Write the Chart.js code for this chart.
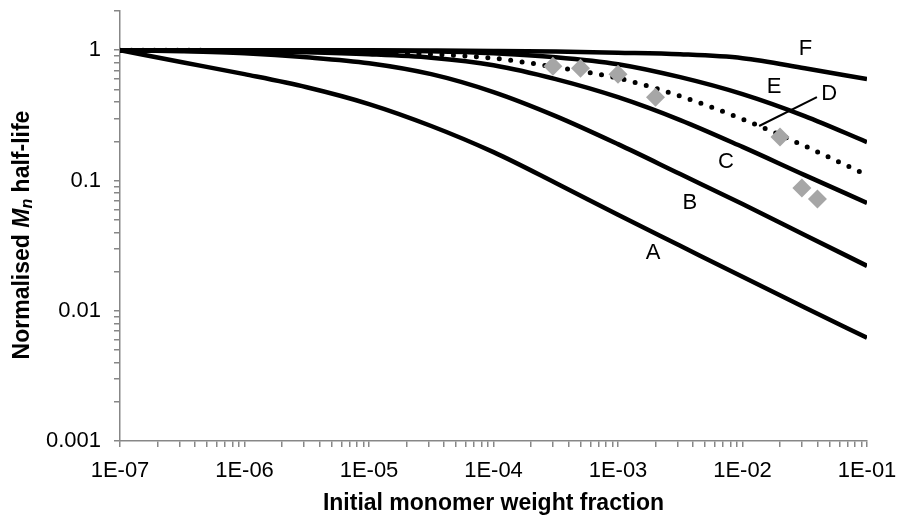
<!DOCTYPE html>
<html>
<head>
<meta charset="utf-8">
<script src="https://cdn.jsdelivr.net/npm/chart.js@4.4.1/dist/chart.umd.min.js"></script>
<style>
  html, body { margin: 0; padding: 0; background: #fff; }
  #chart { display: block; }
</style>
</head>
<body>
<canvas id="chart" width="897" height="519"></canvas>
<script>
// x positions (half decades) shared by the model curves
const monomerFraction = [1e-7, 3.16e-7, 1e-6, 3.16e-6, 1e-5, 3.16e-5, 1e-4, 3.16e-4, 1e-3, 3.16e-3, 1e-2, 3.16e-2, 1e-1];

// normalised Mn half-life
const curveA = [1, 0.809, 0.655, 0.520, 0.386, 0.262, 0.165, 0.0957, 0.0545, 0.0315, 0.0182, 0.0106, 0.0062];
const curveB = [1, 0.982, 0.948, 0.883, 0.795, 0.655, 0.477, 0.312, 0.190, 0.112, 0.066, 0.0382, 0.0221];
const curveC = [1, 0.991, 0.982, 0.965, 0.932, 0.876, 0.767, 0.600, 0.436, 0.291, 0.181, 0.110, 0.0673];
const curveD = [1, 1, 0.991, 0.982, 0.965, 0.932, 0.868, 0.741, 0.610, 0.444, 0.296, 0.184, 0.110];
const curveE = [1, 1, 1, 0.995, 0.991, 0.982, 0.948, 0.884, 0.781, 0.621, 0.460, 0.312, 0.197];
const curveF = [1, 1, 1, 1, 1, 0.995, 0.988, 0.977, 0.957, 0.931, 0.869, 0.728, 0.600];

// experimental points (grey diamonds)
const expFraction = [3e-4, 5e-4, 1e-3, 2e-3, 2e-2, 3e-2, 4e-2];
const expHalfLife = [0.754, 0.728, 0.655, 0.436, 0.216, 0.0876, 0.072];

// curve labels, placed in data coordinates
const curveNames = ['A', 'B', 'C', 'D', 'E', 'F'];
const nameX = [0.00191, 0.00378, 0.00736, 0.0496, 0.0179, 0.032];
const nameY = [0.0278, 0.0673, 0.139, 0.46, 0.52, 1.03];
// leader line from label D to the dotted curve
const leaderX = [0.0136, 0.0396];
const leaderY = [0.262, 0.436];

// axis ticks
const xTickLabels = ['1E-07', '1E-06', '1E-05', '1E-04', '1E-03', '1E-02', '1E-01'];
const yTickLabels = ['0.001', '0.01', '0.1', '1'];

const xTitle = 'Initial monomer weight fraction';

function logTicks(minExp, maxExp, lastValue) {
  const out = [];
  for (let e = minExp; e < maxExp; e++) {
    for (let s = 1; s <= 9; s++) out.push(s * Math.pow(10, e));
  }
  out.push(lastValue);
  return out;
}
const xTickValues = logTicks(-7, -1, 1e-1);
const yTickValues = logTicks(-3, 0, 1).concat([2]);

function decadeLabel(value, minExp, labels) {
  const e = Math.log10(value);
  if (Math.abs(e - Math.round(e)) > 1e-6) return '';
  return labels[Math.round(e) - minExp] || '';
}

const toPoints = (xs, ys) => xs.map((x, i) => ({ x: x, y: ys[i] }));

const solid = (name, values) => ({
  label: name,
  data: toPoints(monomerFraction, values),
  borderColor: '#000',
  borderWidth: 4.5,
  pointRadius: 0,
  fill: false,
  cubicInterpolationMode: 'monotone',
  order: 1
});

const datasets = [
  {
    type: 'scatter',
    label: 'Experimental',
    data: toPoints(expFraction, expHalfLife),
    pointStyle: 'rectRot',
    pointRadius: 9.5,
    backgroundColor: '#a6a6a6',
    borderWidth: 0,
    showLine: false,
    order: 0
  },
  solid('A', curveA),
  solid('B', curveB),
  solid('C', curveC),
  Object.assign(solid('D', curveD), {
    borderDash: [0, 11.5],
    borderCapStyle: 'round',
    borderWidth: 5
  }),
  solid('E', curveE),
  solid('F', curveF)
];

const FONT = '"Liberation Sans", Arial, sans-serif';
const axisGrey = '#878787';

// drop the label overhang so the plot area sits where the layout padding says
const noOverhang = (scale) => {
  scale.paddingLeft = 0;
  scale.paddingRight = 0;
  scale.paddingTop = 0;
  scale.paddingBottom = 0;
};

const annotatePlugin = {
  id: 'annotate',
  afterDraw(chart) {
    const { ctx, scales, chartArea } = chart;
    const x = scales.x, y = scales.y;
    ctx.save();
    ctx.fillStyle = '#000';
    ctx.textAlign = 'center';
    ctx.textBaseline = 'middle';
    ctx.font = '22px ' + FONT;
    curveNames.forEach((name, i) => {
      ctx.fillText(name, x.getPixelForValue(nameX[i]), y.getPixelForValue(nameY[i]));
    });

    ctx.strokeStyle = '#000';
    ctx.lineWidth = 2;
    ctx.beginPath();
    ctx.moveTo(x.getPixelForValue(leaderX[0]), y.getPixelForValue(leaderY[0]));
    ctx.lineTo(x.getPixelForValue(leaderX[1]), y.getPixelForValue(leaderY[1]));
    ctx.stroke();

    // x axis title
    ctx.font = 'bold 23px ' + FONT;
    ctx.fillText(xTitle, (chartArea.left + chartArea.right) / 2, 504);

    // y axis title with italic M and subscript n
    const parts = [
      { t: 'Normalised ', f: 'bold 23px ' + FONT, dy: 0 },
      { t: 'M', f: 'italic bold 23px ' + FONT, dy: 0 },
      { t: 'n', f: 'italic bold 16px ' + FONT, dy: 5 },
      { t: ' half-life', f: 'bold 23px ' + FONT, dy: 0 }
    ];
    let total = 0;
    parts.forEach(p => { ctx.font = p.f; p.w = ctx.measureText(p.t).width; total += p.w; });
    ctx.translate(23, (chartArea.top + chartArea.bottom) / 2 + 9);
    ctx.rotate(-Math.PI / 2);
    ctx.textAlign = 'left';
    let pos = -total / 2;
    parts.forEach(p => {
      ctx.font = p.f;
      ctx.fillText(p.t, pos, p.dy);
      pos += p.w;
    });
    ctx.restore();
  }
};

new Chart(document.getElementById('chart'), {
  type: 'line',
  data: { datasets: datasets },
  options: {
    responsive: false,
    animation: false,
    events: [],
    layout: { padding: { top: 11, right: 30, left: 0, bottom: 0 } },
    plugins: { legend: { display: false }, tooltip: { enabled: false } },
    scales: {
      x: {
        type: 'logarithmic',
        min: 1e-7,
        max: 1e-1,
        afterFit: (scale) => { scale.height = 78; noOverhang(scale); },
        afterBuildTicks: (scale) => { scale.ticks = xTickValues.map(v => ({ value: v })); },
        grid: { drawOnChartArea: false, drawTicks: true, tickLength: 6, color: axisGrey, lineWidth: 1.5 },
        border: { display: true, color: axisGrey, width: 1.5 },
        ticks: {
          autoSkip: false,
          maxRotation: 0,
          padding: 11,
          color: '#000',
          font: { family: FONT, size: 22 },
          callback: (value) => decadeLabel(value, -7, xTickLabels)
        }
      },
      y: {
        type: 'logarithmic',
        min: 0.001,
        max: 2,
        afterFit: (scale) => { scale.width = 120; noOverhang(scale); },
        afterBuildTicks: (scale) => { scale.ticks = yTickValues.map(v => ({ value: v })); },
        grid: { drawOnChartArea: false, drawTicks: true, tickLength: 6, color: axisGrey, lineWidth: 1.5 },
        border: { display: true, color: axisGrey, width: 1.5 },
        ticks: {
          autoSkip: false,
          padding: 13,
          color: '#000',
          font: { family: FONT, size: 22 },
          callback: (value) => decadeLabel(value, -3, yTickLabels)
        }
      }
    }
  },
  plugins: [annotatePlugin]
});
</script>
</body>
</html>
